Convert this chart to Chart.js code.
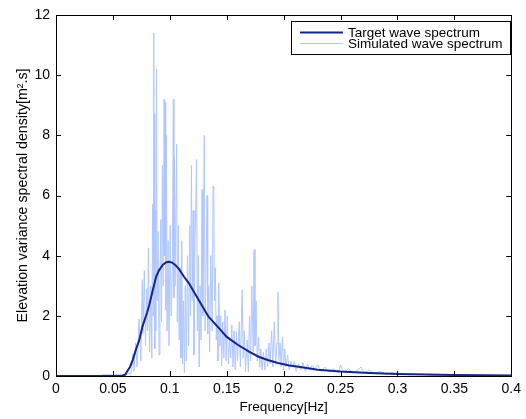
<!DOCTYPE html>
<html>
<head>
<meta charset="utf-8">
<script src="https://cdn.jsdelivr.net/npm/chart.js@4.4.0/dist/chart.umd.min.js"></script>
<style>
  html, body { margin: 0; padding: 0; background: #fff; }
</style>
</head>
<body>
<canvas id="spectrumChart" width="526" height="419"></canvas>
<script>
// values
const targetFreq = [0, 0.05, 0.058, 0.061, 0.0616, 0.065, 0.0674, 0.070, 0.0732, 0.076, 0.080, 0.0819,
  0.085, 0.088, 0.0906, 0.094, 0.097, 0.0993, 0.102, 0.105, 0.108, 0.1125, 0.1168, 0.1255, 0.134,
  0.143, 0.150, 0.160, 0.170, 0.178, 0.186, 0.195, 0.205, 0.213, 0.230, 0.25, 0.275, 0.3, 0.35, 0.4];
const targetDensity = [0, 0, 0, 0.05, 0.1, 0.3, 0.53, 0.85, 1.2, 1.65, 2.1, 2.35,
  2.85, 3.3, 3.52, 3.7, 3.78, 3.8, 3.77, 3.68, 3.56, 3.3, 3.08, 2.52, 1.97,
  1.6, 1.3, 1.03, 0.8, 0.64, 0.53, 0.43, 0.35, 0.31, 0.21, 0.15, 0.1, 0.07, 0.035, 0.02];

const simFreq = [0, 0.04, 0.041, 0.062, 0.064, 0.0655, 0.0665, 0.0674, 0.0685, 0.0700, 0.0712, 0.0730,
  0.0745, 0.0758, 0.0765, 0.0776, 0.0786, 0.0798, 0.0805, 0.0812, 0.0822, 0.0834, 0.0842, 0.0848,
  0.0853, 0.0857, 0.0861, 0.0865, 0.0868, 0.0871, 0.0876, 0.0883, 0.0889, 0.0897, 0.0905, 0.0913,
  0.0921, 0.0927, 0.0935, 0.0942, 0.0950, 0.0955, 0.0959, 0.0964, 0.0970, 0.0976, 0.0985, 0.0993,
  0.1003, 0.1012, 0.1022, 0.1031, 0.1036, 0.1040, 0.1046, 0.1060, 0.1066, 0.1075, 0.1082, 0.1090,
  0.1098, 0.1105, 0.1112, 0.1120, 0.1128, 0.1136, 0.1145, 0.1155, 0.1165, 0.1175, 0.1182, 0.1190,
  0.1197, 0.1205, 0.1212, 0.1222, 0.1235, 0.1242, 0.1250, 0.1258, 0.1266, 0.1274, 0.1283, 0.1290,
  0.1296, 0.1303, 0.1310, 0.1318, 0.1327, 0.1333, 0.1342, 0.1350, 0.1360, 0.1372, 0.1380, 0.1386,
  0.1392, 0.1400, 0.1408, 0.1415, 0.1422, 0.1430, 0.1440, 0.1448, 0.1455, 0.1465, 0.1475, 0.1485,
  0.1495, 0.1505, 0.1515, 0.1525, 0.1535, 0.1545, 0.1555, 0.1565, 0.1575, 0.1585, 0.1595, 0.1610,
  0.1620, 0.1635, 0.1645, 0.1655, 0.1665, 0.1680, 0.1690, 0.1700, 0.1710, 0.1720, 0.1733, 0.1740,
  0.1748, 0.1758, 0.1768, 0.1780, 0.1790, 0.1800, 0.1810, 0.1822, 0.1835, 0.1848, 0.1860, 0.1870,
  0.1880, 0.1895, 0.1905, 0.1918, 0.1930, 0.1942, 0.1950, 0.1958, 0.1968, 0.1978, 0.1990, 0.2000,
  0.2010, 0.2020, 0.2035, 0.2050, 0.2065, 0.2080, 0.2095, 0.2110, 0.2130, 0.2150, 0.2170, 0.2190,
  0.2210, 0.2230, 0.2250, 0.2270, 0.2300, 0.2330, 0.2360, 0.2400, 0.2440, 0.2480, 0.2500, 0.2530,
  0.2570, 0.2610, 0.2650, 0.2680, 0.2710, 0.2750, 0.2800, 0.2850, 0.2900, 0.2950, 0.3000, 0.3050,
  0.3100, 0.3200, 0.3300, 0.3500, 0.4000];
const simDensity = [0, 0, 0.04, 0.04, 0.1, 0.05, 0.2, 0.75, 0.15, 1.1, 0.3, 1.9,
  0.5, 3.2, 1.4, 3.5, 1.0, 2.9, 1.5, 4.25, 0.8, 3.0, 0.6, 5.7,
  2.0, 11.4, 3.5, 8.7, 0.9, 5.5, 1.5, 10.2, 2.5, 4.8, 0.7, 3.0,
  5.2, 1.8, 7.0, 3.0, 9.2, 4.0, 9.1, 2.2, 8.0, 1.5, 4.5, 1.0,
  5.0, 2.0, 3.5, 9.2, 2.6, 7.3, 3.0, 7.7, 1.8, 5.0, 1.2, 3.6,
  0.6, 4.5, 0.4, 2.5, 0.1, 3.0, 0.5, 4.0, 1.0, 5.0, 2.0, 7.0,
  2.5, 5.5, 0.7, 4.5, 7.2, 1.5, 4.0, 0.3, 3.0, 1.2, 6.2, 2.0,
  4.8, 8.0, 1.5, 3.5, 6.0, 1.4, 3.0, 0.8, 4.0, 1.5, 6.3, 6.2,
  2.5, 3.6, 1.2, 2.0, 0.5, 3.1, 1.0, 2.0, 0.33, 1.8, 0.6, 2.2,
  0.5, 2.0, 0.4, 1.3, 0.6, 1.7, 0.3, 1.5, 0.2, 1.47, 0.5, 1.8,
  0.3, 2.86, 0.6, 1.5, 0.14, 1.2, 0.14, 2.0, 0.5, 3.0, 0.8, 4.2,
  1.0, 2.5, 0.5, 1.3, 0.3, 0.9, 0.2, 0.8, 0.2, 0.9, 0.3, 1.1,
  0.4, 1.5, 0.3, 1.8, 0.4, 1.1, 2.8, 0.5, 1.1, 0.3, 1.3, 0.2,
  0.9, 0.3, 0.7, 0.2, 0.5, 0.3, 0.5, 0.15, 0.4, 0.2, 0.45, 0.15,
  0.4, 0.2, 0.35, 0.25, 0.37, 0.15, 0.3, 0.12, 0.25, 0.1, 0.37, 0.12,
  0.25, 0.1, 0.2, 0.3, 0.1, 0.2, 0.08, 0.15, 0.06, 0.12, 0.05, 0.08,
  0.04, 0.06, 0.03, 0.03, 0.02];

const xTicks = [0, 0.05, 0.1, 0.15, 0.2, 0.25, 0.3, 0.35, 0.4];
const yTicks = [0, 2, 4, 6, 8, 10, 12];

const targetColor = 'rgb(20, 38, 140)';
const simColor = 'rgb(176, 198, 255)';
const fontFamily = '"Liberation Sans", Arial, sans-serif';
const yLabel = 'Elevation variance spectral density[m\u00b2.s]';

// box round the axes, ticks pointing inwards, legend in the corner, y label
const matlabAxes = {
  id: 'matlabAxes',
  afterDraw(chart) {
    const ctx = chart.ctx;
    const a = chart.chartArea;
    const xs = chart.scales.x;
    const ys = chart.scales.y;
    ctx.save();
    ctx.strokeStyle = '#000';
    ctx.lineWidth = 1;
    ctx.beginPath();
    xTicks.forEach(v => {
      const px = Math.round(xs.getPixelForValue(v)) + 0.5;
      ctx.moveTo(px, a.bottom); ctx.lineTo(px, a.bottom - 5);
      ctx.moveTo(px, a.top); ctx.lineTo(px, a.top + 5);
    });
    yTicks.forEach(v => {
      const py = Math.round(ys.getPixelForValue(v)) + 0.5;
      ctx.moveTo(a.left, py); ctx.lineTo(a.left + 5, py);
      ctx.moveTo(a.right, py); ctx.lineTo(a.right - 5, py);
    });
    ctx.stroke();
    ctx.strokeRect(Math.round(a.left) + 0.5, Math.round(a.top) + 0.5,
      Math.round(a.right - a.left), Math.round(a.bottom - a.top));

    // legend
    const lx = 291.5, ly = 21.5, lw = 219, lh = 33;
    ctx.fillStyle = '#fff';
    ctx.fillRect(lx, ly, lw, lh);
    ctx.strokeRect(lx, ly, lw, lh);
    chart.data.datasets.forEach((ds, i) => {
      const rowY = 32.5 + i * 11;
      ctx.strokeStyle = ds.borderColor;
      ctx.lineWidth = ds.borderWidth;
      ctx.beginPath();
      ctx.moveTo(300, rowY); ctx.lineTo(343, rowY);
      ctx.stroke();
      ctx.fillStyle = '#000';
      ctx.font = '13.5px ' + fontFamily;
      ctx.textBaseline = 'middle';
      ctx.fillText(ds.label, 348, rowY + 1);
    });

    // y label
    ctx.translate(26.5, (a.top + a.bottom) / 2);
    ctx.rotate(-Math.PI / 2);
    ctx.fillStyle = '#000';
    ctx.font = '14.2px ' + fontFamily;
    ctx.textAlign = 'center';
    ctx.textBaseline = 'alphabetic';
    ctx.fillText(yLabel, 0, 0);
    ctx.restore();
  }
};

const ctx = document.getElementById('spectrumChart').getContext('2d');
const spectrumChart = new Chart(ctx, {
  type: 'line',
  data: {
    datasets: [
      {
        label: 'Target wave spectrum',
        data: targetFreq.map((f, i) => ({ x: f, y: targetDensity[i] })),
        borderColor: targetColor,
        borderWidth: 2,
        pointRadius: 0,
        clip: false
      },
      {
        label: 'Simulated wave spectrum',
        data: simFreq.map((f, i) => ({ x: f, y: simDensity[i] })),
        borderColor: simColor,
        borderWidth: 1,
        pointRadius: 0,
        clip: false
      }
    ]
  },
  options: {
    responsive: false,
    animation: false,
    layout: { padding: { top: 15, right: 11, left: 0, bottom: 0 } },
    plugins: {
      legend: { display: false },
      tooltip: { enabled: false }
    },
    scales: {
      x: {
        type: 'linear',
        min: 0,
        max: 0.4,
        afterBuildTicks: scale => { scale.ticks = xTicks.map(v => ({ value: v })); },
        afterFit: scale => { scale.height = 43; },
        grid: { display: false, drawTicks: false },
        border: { display: false },
        ticks: {
          color: '#000',
          padding: 5,
          maxRotation: 0,
          font: { family: fontFamily, size: 14 },
          callback: v => String(Number(v.toFixed(2)))
        },
        title: {
          display: true,
          text: 'Frequency[Hz]',
          color: '#000',
          font: { family: fontFamily, size: 13.6 },
          padding: { top: 0, bottom: 4 }
        }
      },
      y: {
        min: 0,
        max: 12,
        afterBuildTicks: scale => { scale.ticks = yTicks.map(v => ({ value: v })); },
        afterFit: scale => { scale.width = 56; },
        grid: { display: false, drawTicks: false },
        border: { display: false },
        ticks: {
          color: '#000',
          padding: 6,
          font: { family: fontFamily, size: 14 }
        }
      }
    }
  },
  plugins: [matlabAxes]
});
</script>
</body>
</html>
